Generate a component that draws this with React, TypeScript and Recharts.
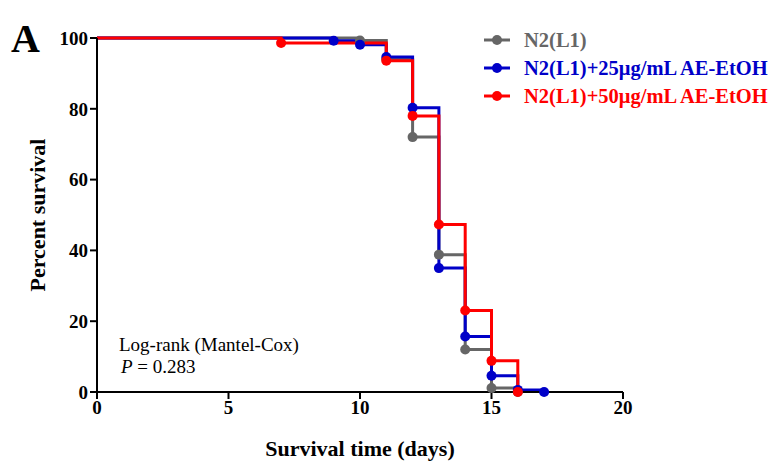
import { Label, Line, LineChart, XAxis, YAxis } from "recharts";

const FONT = '"Liberation Serif", "Times New Roman", serif';

// Kaplan-Meier steps (day, % surviving)
const controlDays = [0, 10, 11, 12, 13, 14, 15, 16];
const controlSurvival = [100, 99.3, 94, 72, 38.8, 12, 1.1, 0];

const lowDoseDays = [0, 9, 10, 11, 12, 13, 14, 15, 16, 17];
const lowDoseSurvival = [100, 99.2, 98.1, 94.6, 80.3, 35, 15.7, 4.6, 0.6, 0];

const highDoseDays = [0, 7, 11, 12, 13, 14, 15, 16];
const highDoseSurvival = [100, 98.6, 93.6, 78, 47.3, 23, 8.8, 0];

const xTicks = [0, 5, 10, 15, 20];
const yTicks = [0, 20, 40, 60, 80, 100];

const SERIES = [
  { name: "N2(L1)", color: "#666666", days: controlDays, pct: controlSurvival },
  { name: "N2(L1)+25μg/mL AE-EtOH", color: "#0000c8", days: lowDoseDays, pct: lowDoseSurvival },
  { name: "N2(L1)+50μg/mL AE-EtOH", color: "#ff0000", days: highDoseDays, pct: highDoseSurvival },
];

const toRows = (days: number[], pct: number[]) =>
  days.map((d, i) => ({ day: d, pct: pct[i] }));

// no marker on the starting point, a filled dot on every step after it
const stepDot = (color: string) => (props: any) => {
  const { cx, cy, index } = props;
  if (index === 0 || cx == null || cy == null) return <g key={`d-${index}`} />;
  return <circle key={`d-${index}`} cx={cx} cy={cy} r={5} fill={color} stroke="none" />;
};

const tickStyle = { fontFamily: FONT, fontWeight: "bold", fontSize: 19, fill: "#000" };
const axisStroke = { stroke: "#000", strokeWidth: 2 };

function LegendBox() {
  return (
    <div
      style={{
        position: "absolute",
        left: 482,
        top: 26,
        fontFamily: FONT,
        fontWeight: "bold",
        fontSize: 20.5,
      }}
    >
      {SERIES.map((s) => (
        <div key={s.name} style={{ display: "flex", alignItems: "center", height: 28 }}>
          <svg width={42} height={14} style={{ flex: "none" }}>
            <line x1={2} y1={7} x2={28} y2={7} stroke={s.color} strokeWidth={3} />
            <circle cx={15} cy={7} r={5} fill={s.color} />
          </svg>
          <span style={{ color: s.color, whiteSpace: "nowrap" }}>{s.name}</span>
        </div>
      ))}
    </div>
  );
}

export default function App() {
  return (
    <div style={{ position: "absolute", left: 0, top: 0, width: 772, height: 464, background: "#fff" }}>
      <LineChart width={772} height={464} margin={{ top: 38, right: 149, bottom: 0, left: 0 }}>
        <XAxis
          type="number"
          dataKey="day"
          domain={[0, 20]}
          ticks={xTicks}
          height={72}
          axisLine={axisStroke}
          tickLine={axisStroke}
          tickSize={7}
          tick={tickStyle}
        >
          <Label
            value="Survival time (days)"
            position="insideBottom"
            offset={8}
            style={{ fontFamily: FONT, fontWeight: "bold", fontSize: 22, fill: "#000" }}
          />
        </XAxis>
        <YAxis
          type="number"
          domain={[0, 100]}
          ticks={yTicks}
          width={97}
          axisLine={axisStroke}
          tickLine={axisStroke}
          tickSize={7}
          tickMargin={2}
          tick={tickStyle}
        >
          <Label
            value="Percent survival"
            angle={-90}
            position="insideLeft"
            offset={37}
            style={{ fontFamily: FONT, fontWeight: "bold", fontSize: 22, fill: "#000", textAnchor: "middle" }}
          />
        </YAxis>
        {SERIES.map((s) => (
          <Line
            key={s.name}
            name={s.name}
            data={toRows(s.days, s.pct)}
            dataKey="pct"
            type="stepAfter"
            stroke={s.color}
            strokeWidth={3}
            dot={stepDot(s.color)}
            activeDot={false}
            isAnimationActive={false}
          />
        ))}
      </LineChart>
      <LegendBox />
      <svg
        width={772}
        height={464}
        style={{ position: "absolute", left: 0, top: 0, pointerEvents: "none" }}
      >
        <text x={11} y={52} fontFamily={FONT} fontWeight="bold" fontSize={40} fill="#000">
          A
        </text>
        <text x={119} y={351} fontFamily={FONT} fontSize={19} fill="#000">
          Log-rank (Mantel-Cox)
        </text>
        <text x={121} y={373} fontFamily={FONT} fontSize={19} fill="#000">
          <tspan fontStyle="italic">P</tspan> = 0.283
        </text>
      </svg>
    </div>
  );
}
